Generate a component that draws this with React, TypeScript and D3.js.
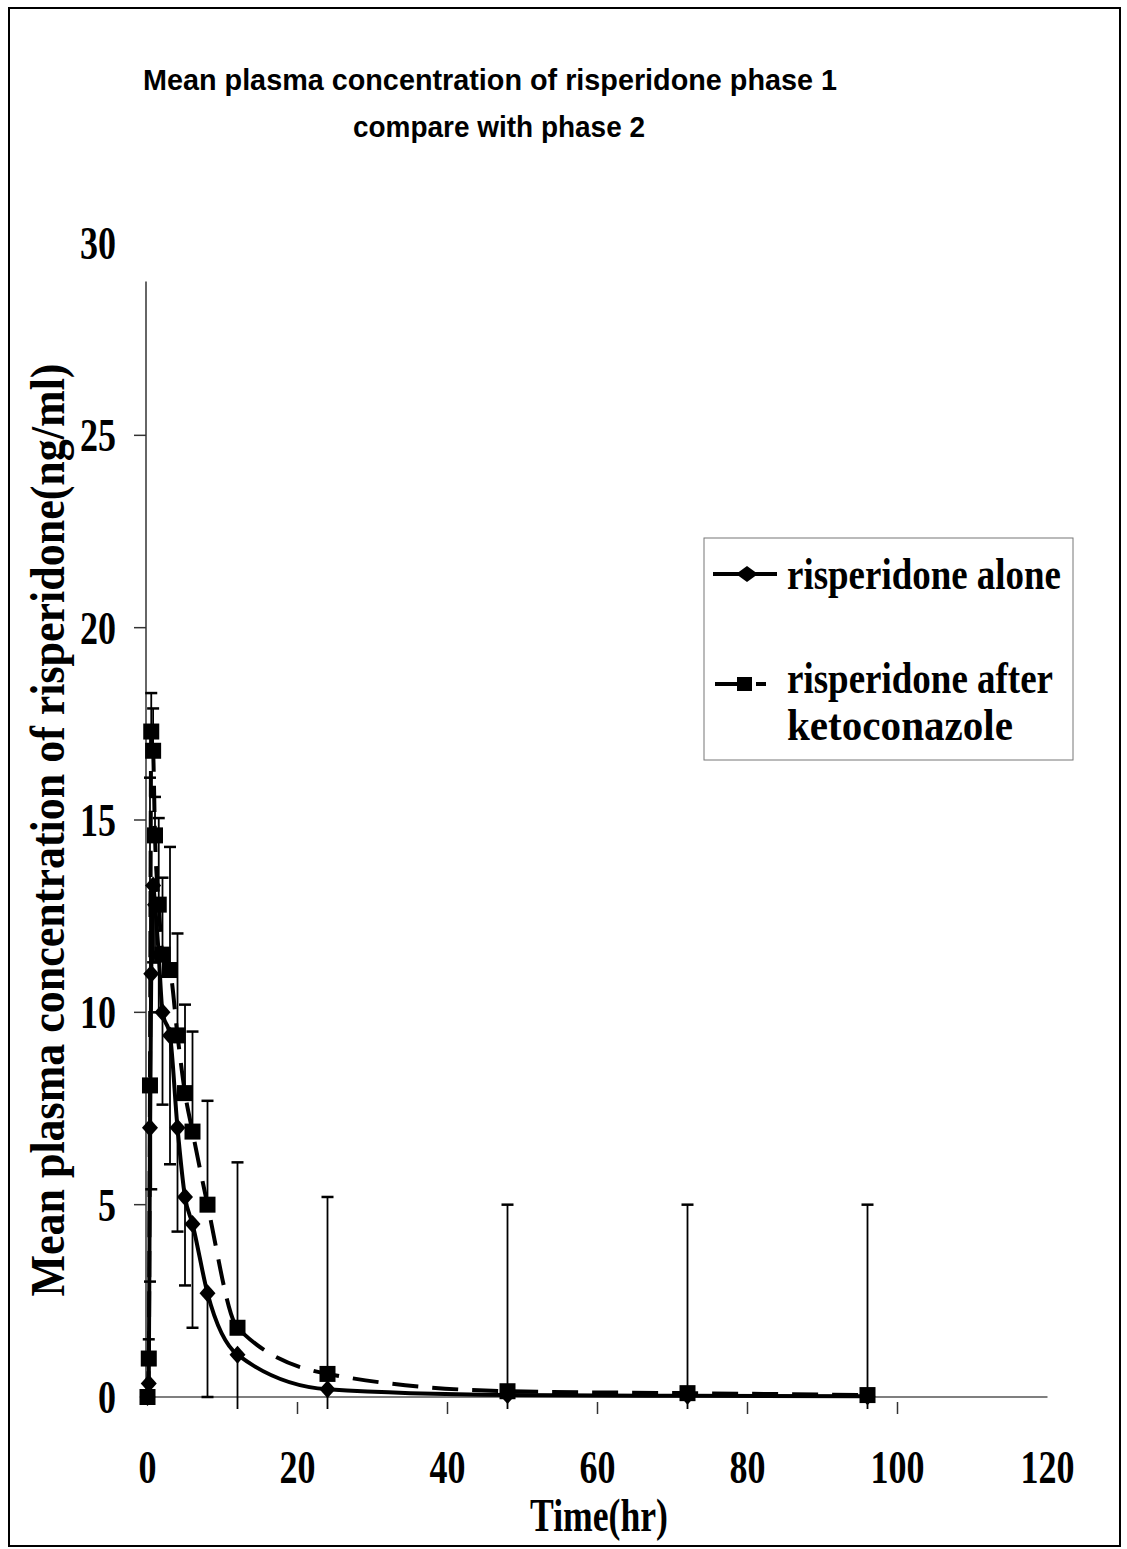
import React from "react";
import * as d3 from "d3";

// Sampling times (hours)
const times = [0, 0.17, 0.33, 0.5, 0.75, 1, 1.5, 2, 3, 4, 5, 6, 8, 12, 24, 48, 72, 96];

// Mean plasma concentration (ng/ml), risperidone alone
const aloneMean = [0, 0.35, 7.0, 11.0, 13.3, 12.8, 11.5, 10.0, 9.4, 7.0, 5.2, 4.5, 2.7, 1.1, 0.2, 0.05, 0.03, 0.02];
// Minus-direction SD for risperidone alone
const aloneSD = [0, 0.3, 4.0, 5.6, 2.0, 1.5, 1.5, 2.4, 3.35, 2.7, 2.3, 2.7, 2.7, 3.0, 3.0, 3.0, 3.0, 3.0];

// Mean plasma concentration (ng/ml), risperidone after ketoconazole
const ketoMean = [0, 1.0, 8.1, 17.3, 16.8, 14.6, 12.8, 11.5, 11.1, 9.4, 7.9, 6.9, 5.0, 1.8, 0.6, 0.15, 0.1, 0.05];
// Plus-direction SD for risperidone after ketoconazole
const ketoSD = [0, 0.5, 8.0, 1.0, 1.1, 1.0, 2.25, 2.0, 3.2, 2.65, 2.3, 2.6, 2.7, 4.3, 4.6, 4.85, 4.9, 4.95];

const xTicks = [0, 20, 40, 60, 80, 100, 120];
const yTicks = [0, 5, 10, 15, 20, 25, 30];

const titleLines = ["Mean plasma concentration of risperidone phase 1", "compare with phase 2"];
const yLabel = "Mean plasma concentration of risperidone(ng/ml)";
const xLabel = "Time(hr)";
const legendAlone = "risperidone alone";
const legendKeto = ["risperidone after", "ketoconazole"];

const W = 1127;
const H = 1549;

const serif = "'Liberation Serif', 'Times New Roman', serif";
const sans = "'Liberation Sans', Arial, sans-serif";

export default function App() {
  const x = d3.scaleLinear().domain([0, 120]).range([147.5, 1047.5]);
  const y = d3.scaleLinear().domain([0, 30]).range([1397, 243]);

  const lineGen = d3
    .line<number>()
    .x((_, i) => x(times[i]))
    .y((d) => y(d))
    .curve(d3.curveMonotoneX);

  const diamond = (cx: number, cy: number, hw: number, hh: number) =>
    `M${cx},${cy - hh}L${cx + hw},${cy}L${cx},${cy + hh}L${cx - hw},${cy}Z`;

  const cap = 6;

  return (
    <svg width={W} height={H} viewBox={`0 0 ${W} ${H}`}
      style={{ display: "block", position: "absolute", left: 0, top: 0, background: "#fff" }}>
      <defs>
        <clipPath id="plotClip">
          <rect x={135} y={230} width={920} height={1179} />
        </clipPath>
      </defs>
      <rect x={0} y={0} width={W} height={H} fill="#fff" />
      {/* outer frame */}
      <rect x={9} y={8} width={1111} height={1538} fill="none" stroke="#000" strokeWidth={2} />

      {/* title */}
      <text x={490} y={90} textAnchor="middle" fontFamily={sans} fontWeight="bold" fontSize={29}
        textLength={694} lengthAdjust="spacingAndGlyphs">{titleLines[0]}</text>
      <text x={499} y={137} textAnchor="middle" fontFamily={sans} fontWeight="bold" fontSize={29}
        textLength={292} lengthAdjust="spacingAndGlyphs">{titleLines[1]}</text>

      {/* y axis */}
      <line x1={146} x2={146} y1={y(29)} y2={y(0)} stroke="#333" strokeWidth={1.5} />
      {yTicks.map((t) => (
        <g key={"yt" + t}>
          {t > 0 && t < 30 && (
            <line x1={134} x2={146} y1={y(t)} y2={y(t)} stroke="#333" strokeWidth={1.5} />
          )}
          <text x={116} y={y(t) + 16} textAnchor="end" fontFamily={serif} fontWeight="bold" fontSize={47}
            textLength={String(t).length * 18} lengthAdjust="spacingAndGlyphs">{t}</text>
        </g>
      ))}

      {/* x axis */}
      <line x1={x(0)} x2={x(120)} y1={y(0)} y2={y(0)} stroke="#555" strokeWidth={1.5} />
      {xTicks.map((t) => (
        <g key={"xt" + t}>
          {t > 0 && t < 120 && (
            <line x1={x(t)} x2={x(t)} y1={y(0) + 5} y2={y(0) + 17} stroke="#333" strokeWidth={1.5} />
          )}
          <text x={x(t)} y={1483} textAnchor="middle" fontFamily={serif} fontWeight="bold" fontSize={47}
            textLength={String(t).length * 18} lengthAdjust="spacingAndGlyphs">{t}</text>
        </g>
      ))}

      {/* axis titles */}
      <text x={599} y={1531} textAnchor="middle" fontFamily={serif} fontWeight="bold" fontSize={47}
        textLength={138} lengthAdjust="spacingAndGlyphs">{xLabel}</text>
      <text transform="translate(64,830) rotate(-90)" textAnchor="middle" fontFamily={serif} fontWeight="bold"
        fontSize={48} textLength={933} lengthAdjust="spacingAndGlyphs">{yLabel}</text>

      <g clipPath="url(#plotClip)">
        {/* error bars: minus for risperidone alone */}
        {times.map((t, i) =>
          aloneSD[i] > 0 ? (
            <g key={"ea" + i}>
              <line x1={x(t)} x2={x(t)} y1={y(aloneMean[i])} y2={y(aloneMean[i] - aloneSD[i])} stroke="#000" strokeWidth={1.8} />
              <line x1={x(t) - cap} x2={x(t) + cap} y1={y(aloneMean[i] - aloneSD[i])} y2={y(aloneMean[i] - aloneSD[i])} stroke="#000" strokeWidth={2.5} />
            </g>
          ) : null
        )}
        {/* error bars: plus for risperidone after ketoconazole */}
        {times.map((t, i) =>
          ketoSD[i] > 0 ? (
            <g key={"ek" + i}>
              <line x1={x(t)} x2={x(t)} y1={y(ketoMean[i])} y2={y(ketoMean[i] + ketoSD[i])} stroke="#000" strokeWidth={1.8} />
              <line x1={x(t) - cap} x2={x(t) + cap} y1={y(ketoMean[i] + ketoSD[i])} y2={y(ketoMean[i] + ketoSD[i])} stroke="#000" strokeWidth={2.5} />
            </g>
          ) : null
        )}

        {/* series lines */}
        <path d={lineGen(ketoMean) || ""} fill="none" stroke="#000" strokeWidth={4} strokeDasharray="26 14" />
        <path d={lineGen(aloneMean) || ""} fill="none" stroke="#000" strokeWidth={4} />

        {/* markers */}
        {times.map((t, i) => (
          <rect key={"sq" + i} x={x(t) - 8} y={y(ketoMean[i]) - 8} width={16} height={16} fill="#000" />
        ))}
        {times.map((t, i) => (
          <path key={"dm" + i} d={diamond(x(t), y(aloneMean[i]), 8, 9)} fill="#000" />
        ))}
      </g>

      {/* legend */}
      <rect x={704} y={538} width={369} height={222} fill="none" stroke="#777" strokeWidth={1} />
      <line x1={713} x2={777} y1={574} y2={574} stroke="#000" strokeWidth={4} />
      <path d={diamond(747, 574, 11, 8)} fill="#000" />
      <text x={787} y={589} fontFamily={serif} fontWeight="bold" fontSize={44}
        textLength={274} lengthAdjust="spacingAndGlyphs">{legendAlone}</text>

      <line x1={715} x2={737} y1={684} y2={684} stroke="#000" strokeWidth={4} />
      <rect x={737} y={677} width={15} height={14} fill="#000" />
      <line x1={756} x2={766} y1={684} y2={684} stroke="#000" strokeWidth={4} />
      <text x={787} y={693} fontFamily={serif} fontWeight="bold" fontSize={44}
        textLength={266} lengthAdjust="spacingAndGlyphs">{legendKeto[0]}</text>
      <text x={787} y={740} fontFamily={serif} fontWeight="bold" fontSize={44}
        textLength={226} lengthAdjust="spacingAndGlyphs">{legendKeto[1]}</text>
    </svg>
  );
}
